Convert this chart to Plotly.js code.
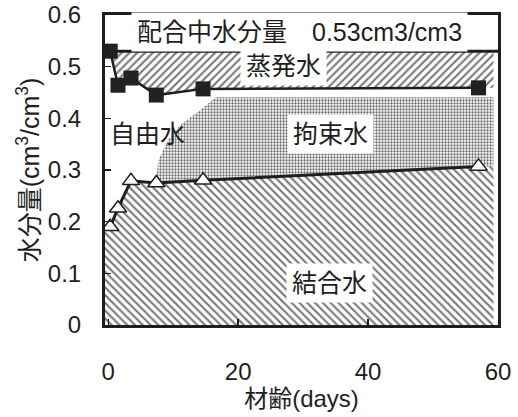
<!DOCTYPE html>
<html>
<head>
<meta charset="utf-8">
<script src="https://cdn.plot.ly/plotly-3.0.1.min.js"></script>
<style>html,body{margin:0;padding:0;background:#fff;}#chart{width:518px;height:417px;}</style>
</head>
<body>
<div id="chart"></div>
<script>
// ---- data ----
const days = [0.3, 1.5, 3.5, 7.4, 14.6, 57];            // 材齢 (days)
const totalWater = [0.53, 0.464, 0.478, 0.445, 0.457, 0.459]; // ■ 水分量 after evaporation
const boundWater = [0.19, 0.226, 0.279, 0.275, 0.28, 0.307];  // △ 結合水
const mixWater = 0.53;                                   // 配合中水分量
// boundary between 自由水 and 拘束水
const freeBoundDays = [7.4, 7.7, 9.2, 11.1, 14.2, 16.5];
const freeBoundVals = [0.28, 0.319, 0.358, 0.387, 0.416, 0.441];
const constrainedTop = 0.441;
const xTicks = [0, 20, 40, 60];
const yTicks = [0, 0.1, 0.2, 0.3, 0.4, 0.5, 0.6];
const xMin = -0.5, xMax = 60, xFillEnd = 59.3;

// ---- build fill polygons from the arrays ----
// 結合水: under triangle line
const bx = [xMin].concat(days, [xFillEnd]);
const by = [boundWater[0]].concat(boundWater, [boundWater[boundWater.length-1]]);

// 拘束水: between boundary curve, top level and triangle line
const cx = [], cy = [];
freeBoundDays.forEach((d,i)=>{cx.push(d);cy.push(freeBoundVals[i]);});
cx.push(xFillEnd); cy.push(constrainedTop);
cx.push(xFillEnd); cy.push(boundWater[boundWater.length-1]);
for (let i = days.length-1; i >= 0; i--) {
  if (days[i] >= freeBoundDays[0]) { cx.push(days[i]); cy.push(boundWater[i]); }
}

// 蒸発水: between mix water line and square line
const ex = [xMin, xFillEnd, xFillEnd], ey = [mixWater, mixWater, totalWater[totalWater.length-1]];
for (let i = days.length-1; i >= 0; i--) { ex.push(days[i]); ey.push(totalWater[i]); }
ex.push(xMin); ey.push(totalWater[0]);

const FONT = 'Liberation Sans, Arial, Noto Sans CJK JP, sans-serif';
const INK = '#1e1e1e';

const traces = [
  {x: bx, y: by, type: 'scatter', mode: 'none', fill: 'tozeroy',
   fillcolor: '#ffffff',
   fillpattern: {shape: '\\', fgcolor: '#7a7a7a', bgcolor: '#ffffff', size: 5.5, solidity: 0.4},
   hoverinfo: 'skip', showlegend: false},
  {x: cx, y: cy, type: 'scatter', mode: 'none', fill: 'toself',
   fillcolor: '#ffffff',
   fillpattern: {shape: '.', fgcolor: '#6a6a6a', bgcolor: '#ffffff', size: 3, solidity: 0.45},
   hoverinfo: 'skip', showlegend: false},
  {x: ex, y: ey, type: 'scatter', mode: 'none', fill: 'toself',
   fillcolor: '#ffffff',
   fillpattern: {shape: '/', fgcolor: '#7a7a7a', bgcolor: '#ffffff', size: 5.5, solidity: 0.4},
   hoverinfo: 'skip', showlegend: false},
  {x: [xMin, xMax], y: [mixWater, mixWater], type: 'scatter', mode: 'lines',
   line: {color: INK, width: 3}, hoverinfo: 'skip', showlegend: false},
  {x: days, y: totalWater, type: 'scatter', mode: 'lines+markers',
   line: {color: INK, width: 2.5},
   marker: {symbol: 'square', size: 15, color: '#222222'},
   showlegend: false},
  {x: days, y: boundWater, type: 'scatter', mode: 'lines+markers',
   line: {color: INK, width: 3},
   marker: {symbol: 'triangle-up', size: 15, color: '#ffffff', line: {color: INK, width: 1.5}},
   showlegend: false}
];

const ann = (x, y, text, bg) => ({
  x: x, y: y, xref: 'x', yref: 'y', text: text, showarrow: false,
  font: {family: FONT, size: 25, color: INK},
  bgcolor: bg || 'rgba(0,0,0,0)', borderpad: bg ? 5 : 0
});

const layout = {
  width: 518, height: 417,
  margin: {l: 105, r: 20, t: 15, b: 92},
  paper_bgcolor: '#ffffff', plot_bgcolor: '#ffffff',
  font: {family: FONT, color: INK},
  xaxis: {
    range: [xMin, xMax], tickvals: xTicks, ticktext: xTicks.map(String),
    ticks: 'inside', ticklen: 6, tickwidth: 1.5, tickcolor: INK,
    showline: true, mirror: true, linewidth: 3, linecolor: INK,
    showgrid: false, zeroline: false,
    tickfont: {family: FONT, size: 24, color: INK},
    ticklabelstandoff: 23,
    title: {text: '材齢(days)', font: {family: FONT, size: 24, color: INK}, standoff: 0}
  },
  yaxis: {
    range: [0, 0.6], tickvals: yTicks, ticktext: yTicks.map(v => v === 0 ? '0' : String(v)),
    ticks: 'inside', ticklen: 6, tickwidth: 1.5, tickcolor: INK,
    showline: true, mirror: true, linewidth: 3, linecolor: INK,
    showgrid: false, zeroline: false,
    tickfont: {family: FONT, size: 24, color: INK},
    ticklabelstandoff: 16,
    title: {text: '水分量(cm<sup>3</sup>/cm<sup>3</sup>)', font: {family: FONT, size: 25, color: INK}, standoff: 2}
  },
  annotations: [
    ann(29.5, 0.567, '配合中水分量　0.53cm3/cm3', '#ffffff'),
    ann(27, 0.501, '蒸発水', '#ffffff'),
    ann(6.1, 0.37, '自由水'),
    ann(34.2, 0.369, '拘束水', '#ffffff'),
    ann(34, 0.082, '結合水', '#ffffff')
  ]
};

Plotly.newPlot('chart', traces, layout, {staticPlot: true, displayModeBar: false});
</script>
</body>
</html>
